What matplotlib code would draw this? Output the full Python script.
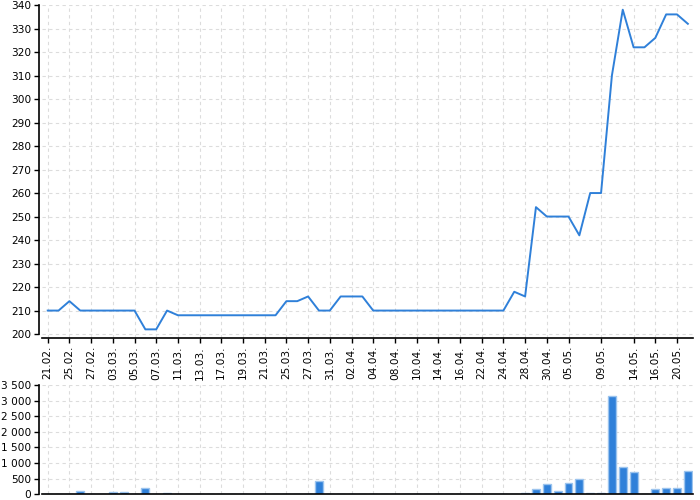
import matplotlib
matplotlib.use('Agg')
import matplotlib.pyplot as plt
import numpy as np

# line series (one value per day, 60 points)
line_values = [210, 210, 214, 210, 210, 210, 210, 210, 210, 202,
               202, 210, 208, 208, 208, 208, 208, 208, 208, 208,
               208, 208, 214, 214, 216, 210, 210, 216, 216, 216,
               210, 210, 210, 210, 210, 210, 210, 210, 210, 210,
               210, 210, 210, 218, 216, 254, 250, 250, 250, 242,
               260, 260, 310, 338, 322, 322, 326, 336, 336, 332]

# bar series (same days)
bar_values = [0, 0, 15, 115, 10, 0, 80, 60, 0, 200,
              0, 35, 0, 0, 0, 0, 0, 0, 0, 0,
              0, 0, 15, 0, 8, 440, 0, 8, 0, 0,
              8, 0, 0, 0, 0, 0, 0, 0, 0, 0,
              0, 0, 0, 5, 55, 160, 320, 95, 350, 480,
              55, 40, 3160, 860, 730, 0, 170, 215, 215, 740]

tick_idx = [0, 2, 4, 6, 8, 10, 12, 14, 16, 18, 20, 22, 24, 26, 28,
            30, 32, 34, 36, 38, 40, 42, 44, 46, 48, 51, 54, 56, 58]
tick_labels = ['21.02.', '25.02.', '27.02.', '03.03.', '05.03.', '07.03.',
               '11.03.', '13.03.', '17.03.', '19.03.', '21.03.', '25.03.',
               '27.03.', '31.03.', '02.04.', '04.04.', '08.04.', '10.04.',
               '14.04.', '16.04.', '22.04.', '24.04.', '28.04.', '30.04.',
               '05.05.', '09.05.', '14.05.', '16.05.', '20.05.']

LINE_COLOR = '#2f80d9'
BAR_COLOR = '#2f80d9'
BAR_EDGE = '#9cc4ee'
GRID_COLOR = '#dcdcdc'

x = np.arange(len(line_values))

fig = plt.figure(figsize=(7, 5), dpi=100)
ax1 = fig.add_axes([0.0604, 0.3234, 0.930, 0.6666])
ax2 = fig.add_axes([0.0604, 0.0114, 0.930, 0.2186])


def style_axis(ax):
    for s in ['top', 'right']:
        ax.spines[s].set_visible(False)
    ax.spines['left'].set_position(('outward', 2.6))
    ax.spines['left'].set_linewidth(1.2)
    ax.spines['bottom'].set_linewidth(1.2)
    ax.set_xlim(-0.5, len(line_values) - 0.5)
    ax.set_xticks(tick_idx)
    ax.grid(True, color=GRID_COLOR, linestyle=(0, (3, 3)), linewidth=0.8)
    ax.set_axisbelow(True)
    ax.tick_params(axis='both', labelsize=7.6, length=3.5, width=1, pad=2)


# top: line chart
style_axis(ax1)
ax1.plot(x, line_values, color=LINE_COLOR, linewidth=1.4)
ax1.set_ylim(198.2, 340)
ax1.set_yticks(np.arange(200, 341, 10))
ax1.spines['left'].set_bounds(200, 340)
ax1.set_xticklabels(tick_labels, rotation=90)

# bottom: bar chart
style_axis(ax2)
ax2.bar(x, bar_values, width=0.72, color=BAR_COLOR, edgecolor=BAR_EDGE, linewidth=1)
ax2.set_ylim(0, 3500)
ax2.set_yticks(np.arange(0, 3501, 500))
ax2.yaxis.set_major_formatter(plt.FuncFormatter(lambda v, p: f'{int(v):,}'.replace(',', ' ')))
ax2.set_xticklabels([])
ax2.tick_params(axis='x', length=0)

fig.savefig('out.png', dpi=100)
